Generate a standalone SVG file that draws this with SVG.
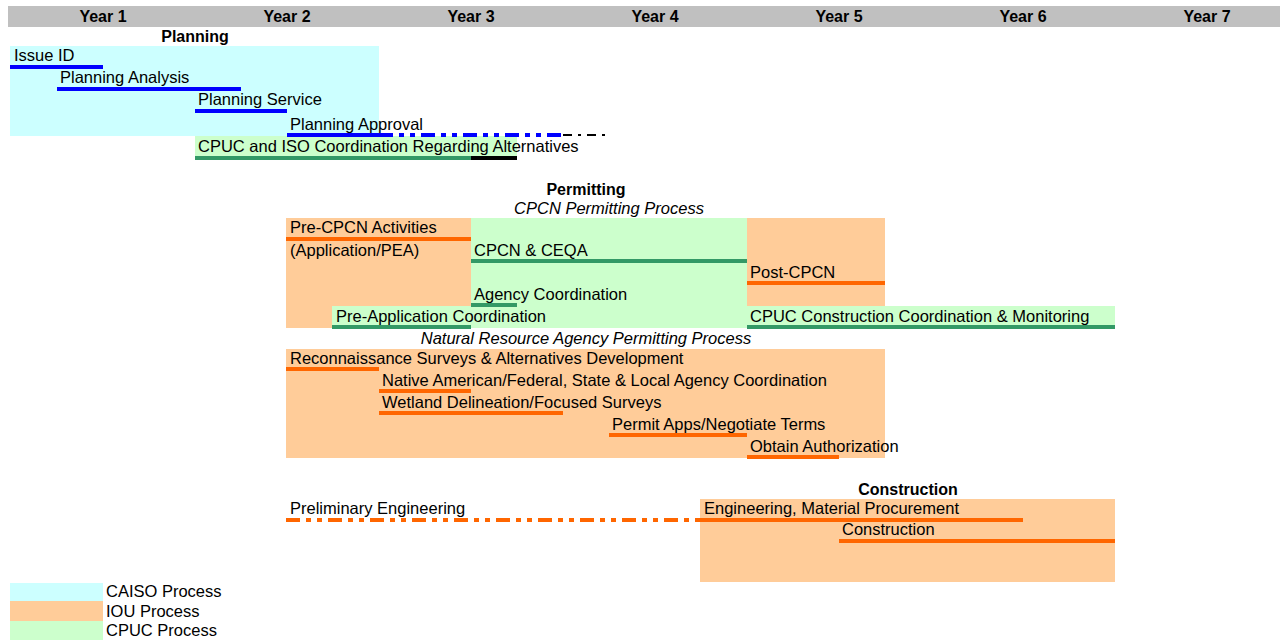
<svg xmlns="http://www.w3.org/2000/svg" width="1280" height="640" viewBox="0 0 1280 640">
<style>
text{font-family:"Liberation Sans",Arial,sans-serif;font-size:16.5px;fill:#000}
.b{font-weight:bold;text-anchor:middle;font-size:16px}
.i{font-style:italic;text-anchor:middle}
.caiso{fill:#CCFFFF}.iou{fill:#FFCC99}.cpuc{fill:#CCFFCC}
.blue{fill:#0000FF}.org{fill:#FF6600}.grn{fill:#339966}.blk{fill:#000}
.dd{fill:none;stroke-width:4;stroke-dasharray:14 6 5 6 5 6}
</style>
<rect width="1280" height="640" fill="#fff"/>
<g id="header">
<rect x="8" y="6" width="1272" height="21" fill="#C0C0C0"/>
<text class="b" x="103" y="22">Year 1</text>
<text class="b" x="287" y="22">Year 2</text>
<text class="b" x="471" y="22">Year 3</text>
<text class="b" x="655" y="22">Year 4</text>
<text class="b" x="839" y="22">Year 5</text>
<text class="b" x="1023" y="22">Year 6</text>
<text class="b" x="1207" y="22">Year 7</text>
</g>
<g id="backgrounds">
<rect class="caiso" x="10" y="46" width="369" height="90"/>
<rect class="cpuc" x="195" y="136" width="322" height="21"/>
<rect class="iou" x="286" y="218" width="185" height="110"/>
<rect class="cpuc" x="471" y="218" width="276" height="110"/>
<rect class="iou" x="747" y="218" width="138" height="88"/>
<rect class="cpuc" x="332" y="306" width="139" height="22"/>
<rect class="cpuc" x="747" y="306" width="368" height="22"/>
<rect class="iou" x="286" y="349" width="599" height="109"/>
<rect class="iou" x="700" y="499" width="415" height="83"/>
</g>
<g id="section-titles">
<text class="b" x="195" y="42">Planning</text>
<text class="b" x="586" y="195">Permitting</text>
<text class="i" x="609" y="214">CPCN Permitting Process</text>
<text class="i" x="586" y="344">Natural Resource Agency Permitting Process</text>
<text class="b" x="908" y="495">Construction</text>
</g>
<g id="connectors">
<rect class="blue" x="10" y="65" width="93" height="4"/>
<rect class="blue" x="57" y="87" width="184" height="4"/>
<rect class="blue" x="195" y="109" width="92" height="4"/>
<rect class="blue" x="287" y="133" width="92" height="4"/>
<line class="dd" x1="379" y1="135" x2="563" y2="135" stroke="#0000FF"/>
<line x1="563" y1="135" x2="609" y2="135" stroke="#000" stroke-width="2" stroke-dasharray="9 6 3 6"/>
<rect class="grn" x="195" y="156" width="276" height="4"/>
<rect class="blk" x="471" y="156" width="46" height="4"/>
<rect class="org" x="286" y="237" width="185" height="4"/>
<rect class="grn" x="471" y="259" width="276" height="4"/>
<rect class="org" x="747" y="281" width="138" height="4"/>
<rect class="grn" x="471" y="303" width="46" height="4"/>
<rect class="grn" x="332" y="325" width="139" height="4"/>
<rect class="grn" x="747" y="325" width="368" height="4"/>
<rect class="org" x="286" y="367" width="93" height="4"/>
<rect class="org" x="379" y="389" width="92" height="4"/>
<rect class="org" x="379" y="411" width="184" height="4"/>
<rect class="org" x="609" y="433" width="138" height="4"/>
<rect class="org" x="747" y="455" width="92" height="4"/>
<line class="dd" x1="286" y1="520" x2="700" y2="520" stroke="#FF6600"/>
<rect class="org" x="700" y="518" width="323" height="4"/>
<rect class="org" x="839" y="539" width="276" height="4"/>
</g>
<g id="issue-id"><text x="14" y="61">Issue ID</text></g>
<g id="planning-analysis"><text x="60" y="83">Planning Analysis</text></g>
<g id="planning-service"><text x="198" y="105">Planning Service</text></g>
<g id="planning-approval"><text x="290" y="130">Planning Approval</text></g>
<g id="cpuc-iso"><text x="198" y="152">CPUC and ISO Coordination Regarding Alternatives</text></g>
<g id="pre-cpcn"><text x="290" y="233">Pre-CPCN Activities</text><text x="290" y="256">(Application/PEA)</text></g>
<g id="cpcn-ceqa"><text x="474" y="256">CPCN &amp; CEQA</text></g>
<g id="post-cpcn"><text x="750" y="278">Post-CPCN</text></g>
<g id="agency-coord"><text x="474" y="300">Agency Coordination</text></g>
<g id="pre-app"><text x="336" y="322">Pre-Application Coordination</text></g>
<g id="cpuc-constr"><text x="750" y="322">CPUC Construction Coordination &amp; Monitoring</text></g>
<g id="recon"><text x="290" y="364">Reconnaissance Surveys &amp; Alternatives Development</text></g>
<g id="native"><text x="382" y="386">Native American/Federal, State &amp; Local Agency Coordination</text></g>
<g id="wetland"><text x="382" y="408">Wetland Delineation/Focused Surveys</text></g>
<g id="permit-apps"><text x="612" y="430">Permit Apps/Negotiate Terms</text></g>
<g id="obtain-auth"><text x="750" y="452">Obtain Authorization</text></g>
<g id="prelim-eng"><text x="290" y="514">Preliminary Engineering</text></g>
<g id="eng-mat"><text x="704" y="514">Engineering, Material Procurement</text></g>
<g id="construction"><text x="842" y="535">Construction</text></g>
<g id="legend">
<rect class="caiso" x="10" y="583" width="93" height="18"/>
<rect class="iou" x="10" y="601" width="93" height="20"/>
<rect class="cpuc" x="10" y="621" width="93" height="19"/>
<text x="106" y="597">CAISO Process</text>
<text x="106" y="617">IOU Process</text>
<text x="106" y="636">CPUC Process</text>
</g>
</svg>
